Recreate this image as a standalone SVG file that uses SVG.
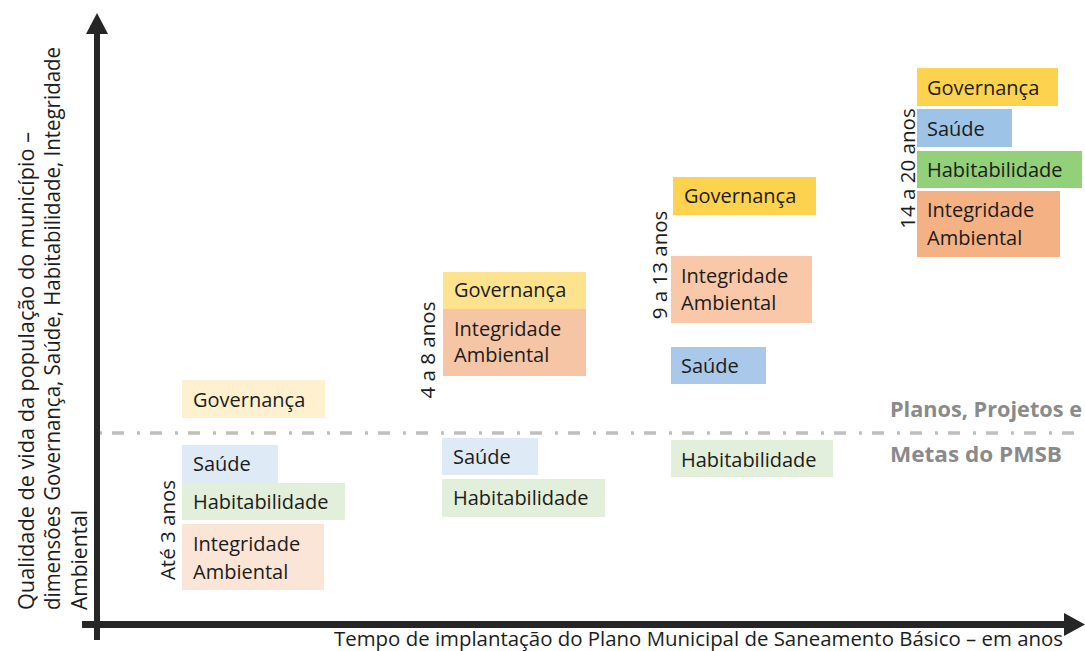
<svg xmlns="http://www.w3.org/2000/svg" width="1085" height="651" viewBox="0 0 1085 651">
<defs>
<style>
text{font-family:"Open Sans","Noto Sans","DejaVu Sans",sans-serif;fill:#1c1c1c;}
.bt{font-size:20px;}
.rt{font-size:20.5px;text-anchor:middle;}
.ax{font-size:21px;}
.gray{font-size:21px;font-weight:bold;fill:#8a8a8a;}
.axis{stroke:#262626;fill:none;}
.head{fill:#262626;}
.gov1{fill:#fff1d0;} .sau1{fill:#deeaf6;} .hab1{fill:#e2efda;} .int1{fill:#fbe5d6;}
.gov2{fill:#fde38e;} .int2{fill:#f6c5a5;}
.gov3{fill:#fcd24f;} .int3{fill:#f8c8a9;} .sau3{fill:#a9c8ea;}
.gov4{fill:#fdd24f;} .sau4{fill:#9dc3e6;} .hab4{fill:#92d07a;} .int4{fill:#f4b183;}
</style>
</defs>
<rect width="1085" height="651" fill="#ffffff"/>

<g id="connectors">
  <line x1="100" y1="433" x2="1085" y2="433" stroke="#bfbfbf" stroke-width="3.5" stroke-dasharray="12 13 3 10" stroke-dashoffset="26"/>
  <line class="axis" x1="97" y1="640" x2="97" y2="30" stroke-width="6"/>
  <polygon class="head" points="97,13 86,34 108,34"/>
  <line class="axis" x1="82" y1="624.5" x2="1068" y2="624.5" stroke-width="7"/>
  <polygon class="head" points="1085,624.5 1064,613 1064,636"/>
</g>

<g id="axis-labels">
  <text class="ax" transform="translate(34,610) rotate(-90)" textLength="478" lengthAdjust="spacingAndGlyphs">Qualidade de vida da população do município –</text>
  <text class="ax" transform="translate(60,610) rotate(-90)" textLength="563" lengthAdjust="spacingAndGlyphs">dimensões Governança, Saúde, Habitabilidade, Integridade</text>
  <text class="ax" transform="translate(87,610) rotate(-90)">Ambiental</text>
  <text class="bt" x="334" y="646" textLength="729" lengthAdjust="spacingAndGlyphs">Tempo de implantação do Plano Municipal de Saneamento Básico – em anos</text>
</g>

<g id="limit-label">
  <text class="gray" x="890" y="417" textLength="192" lengthAdjust="spacingAndGlyphs">Planos, Projetos e</text>
  <text class="gray" x="890" y="462" textLength="172" lengthAdjust="spacingAndGlyphs">Metas do PMSB</text>
</g>

<g id="period-1">
  <text class="rt" transform="translate(175,530) rotate(-90)">Até 3 anos</text>
  <g id="p1-governanca"><rect class="gov1" x="182" y="380" width="143" height="38"/><text class="bt" x="193" y="407">Governança</text></g>
  <g id="p1-saude"><rect class="sau1" x="182" y="445" width="96" height="38"/><text class="bt" x="193" y="471">Saúde</text></g>
  <g id="p1-habitabilidade"><rect class="hab1" x="182" y="483" width="163" height="37"/><text class="bt" x="193" y="509">Habitabilidade</text></g>
  <g id="p1-integridade"><rect class="int1" x="182" y="524" width="142" height="66"/><text class="bt" x="193" y="551">Integridade</text><text class="bt" x="193" y="579">Ambiental</text></g>
</g>

<g id="period-2">
  <text class="rt" transform="translate(435,350) rotate(-90)">4 a 8 anos</text>
  <g id="p2-governanca"><rect class="gov2" x="443" y="272" width="143" height="37"/><text class="bt" x="454" y="297">Governança</text></g>
  <g id="p2-integridade"><rect class="int2" x="443" y="309" width="143" height="67"/><text class="bt" x="454" y="336">Integridade</text><text class="bt" x="454" y="362">Ambiental</text></g>
  <g id="p2-saude"><rect class="sau1" x="442" y="438" width="96" height="37"/><text class="bt" x="453" y="464">Saúde</text></g>
  <g id="p2-habitabilidade"><rect class="hab1" x="442" y="479" width="163" height="38"/><text class="bt" x="453" y="505">Habitabilidade</text></g>
</g>

<g id="period-3">
  <text class="rt" transform="translate(667,265) rotate(-90)">9 a 13 anos</text>
  <g id="p3-governanca"><rect class="gov3" x="673" y="177" width="143" height="38"/><text class="bt" x="684" y="203">Governança</text></g>
  <g id="p3-integridade"><rect class="int3" x="671" y="256" width="141" height="67"/><text class="bt" x="681" y="283">Integridade</text><text class="bt" x="681" y="310">Ambiental</text></g>
  <g id="p3-saude"><rect class="sau3" x="671" y="347" width="95" height="37"/><text class="bt" x="681" y="373">Saúde</text></g>
  <g id="p3-habitabilidade"><rect class="hab1" x="671" y="440" width="162" height="37"/><text class="bt" x="681" y="467">Habitabilidade</text></g>
</g>

<g id="period-4">
  <text class="rt" transform="translate(915,168.5) rotate(-90)">14 a 20 anos</text>
  <g id="p4-governanca"><rect class="gov4" x="917" y="68" width="141" height="38"/><text class="bt" x="927" y="95">Governança</text></g>
  <g id="p4-saude"><rect class="sau4" x="917" y="109" width="95" height="38"/><text class="bt" x="927" y="136">Saúde</text></g>
  <g id="p4-habitabilidade"><rect class="hab4" x="917" y="151" width="165" height="37"/><text class="bt" x="927" y="177">Habitabilidade</text></g>
  <g id="p4-integridade"><rect class="int4" x="917" y="191" width="143" height="66"/><text class="bt" x="927" y="217">Integridade</text><text class="bt" x="927" y="245">Ambiental</text></g>
</g>
</svg>
